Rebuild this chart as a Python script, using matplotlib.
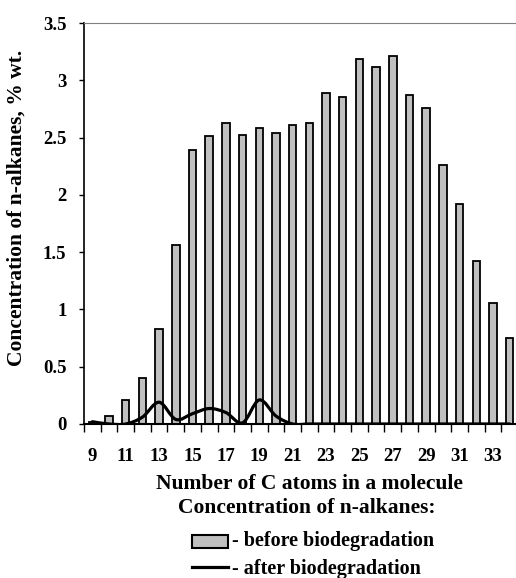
import numpy as np
import matplotlib.pyplot as plt
from matplotlib.path import Path
from matplotlib.patches import PathPatch, Rectangle
from matplotlib.lines import Line2D

plt.rcParams['font.family'] = ['Liberation Serif', 'DejaVu Serif']
plt.rcParams['font.weight'] = 'bold'

# Number of C atoms
carbons = list(range(9, 35))
# Concentration before biodegradation, % wt.
before = [0.02, 0.07, 0.21, 0.40, 0.83, 1.56, 2.39, 2.51, 2.63, 2.52, 2.58, 2.54, 2.61,
          2.63, 2.89, 2.85, 3.19, 3.12, 3.21, 2.87, 2.76, 2.26, 1.92, 1.42, 1.06, 0.75]
# Concentration after biodegradation, % wt.
after = [0.02, 0.0, 0.0, 0.06, 0.19, 0.04, 0.09, 0.135, 0.10, 0.01, 0.21, 0.07, 0.0,
         0.0, 0.0, 0.0, 0.0, 0.0, 0.0, 0.0, 0.0, 0.0, 0.0, 0.0, 0.0, 0.0]

W, H = 516, 578
fig = plt.figure(figsize=(W / 100, H / 100), dpi=100)
ax = fig.add_axes([84 / W, 1 - 424 / H, (518 - 84) / W, (424 - 23) / H])

x = np.arange(len(carbons))
ax.bar(x, before, width=0.45, color='#c0c0c0', edgecolor='black', linewidth=1.3, zorder=2)

# smoothed line (Excel style bezier through the points)
pts = np.column_stack([x, after]).astype(float)
verts = [tuple(pts[0])]
codes = [Path.MOVETO]
n = len(pts)
for i in range(n - 1):
    p0 = pts[max(i - 1, 0)]
    p1 = pts[i]
    p2 = pts[i + 1]
    p3 = pts[min(i + 2, n - 1)]
    c1 = p1 + (p2 - p0) / 6
    c2 = p2 - (p3 - p1) / 6
    verts += [tuple(c1), tuple(c2), tuple(p2)]
    codes += [Path.CURVE4] * 3
ax.add_patch(PathPatch(Path(verts, codes), fill=False, edgecolor='black', linewidth=2.3,
                       zorder=3, capstyle='round', joinstyle='round'))

ax.set_xlim(-0.5, len(carbons) - 0.5)
ax.set_ylim(0, 3.5)
ax.set_yticks(np.arange(0, 3.51, 0.5))
ax.set_yticklabels(['0', '0.5', '1', '1.5', '2', '2.5', '3', '3.5'], fontsize=13.5, fontweight='bold')
ax.set_xticks(np.arange(-0.5, len(carbons), 1))
ax.set_xticklabels([])
ax.set_xticks(x[::2], minor=True)
ax.set_xticklabels([str(c) for c in carbons[::2]], minor=True, fontsize=13.5, fontweight='bold')
ax.tick_params(axis='x', which='major', direction='out', length=6, width=1)
ax.tick_params(axis='x', which='minor', length=0, pad=17)
ax.tick_params(axis='y', direction='out', length=3.6, width=1, pad=9)

ax.spines['top'].set_color('#808080')
ax.spines['right'].set_visible(False)
ax.spines['left'].set_linewidth(1.2)
ax.spines['bottom'].set_linewidth(1.5)

# axis titles
fig.text(309 / W, 1 - 484 / H, 'Number of C atoms in a molecule', ha='center', va='center',
         fontsize=15.5, fontweight='bold')
fig.text(17 / W, 1 - 208 / H, 'Concentration of n-alkanes, % wt.', ha='center', va='center',
         rotation=90, fontsize=15.5, fontweight='bold')

# legend block under the chart
fig.text(307 / W, 1 - 508 / H, 'Concentration of n-alkanes:', ha='center', va='center',
         fontsize=15.5, fontweight='bold')
fig.patches.append(Rectangle((192 / W, 1 - 548 / H), 36 / W, 13 / H, transform=fig.transFigure,
                             facecolor='#c0c0c0', edgecolor='black', linewidth=1.5))
fig.text(232 / W, 1 - 541 / H, '- before biodegradation', ha='left', va='center',
         fontsize=14.5, fontweight='bold')
fig.lines.append(Line2D([192 / W, 228 / W], [1 - 567 / H, 1 - 567 / H], transform=fig.transFigure,
                        color='black', linewidth=2.3))
fig.text(232 / W, 1 - 569 / H, '- after biodegradation', ha='left', va='center',
         fontsize=14.5, fontweight='bold')

fig.savefig('out.png', dpi=100)
